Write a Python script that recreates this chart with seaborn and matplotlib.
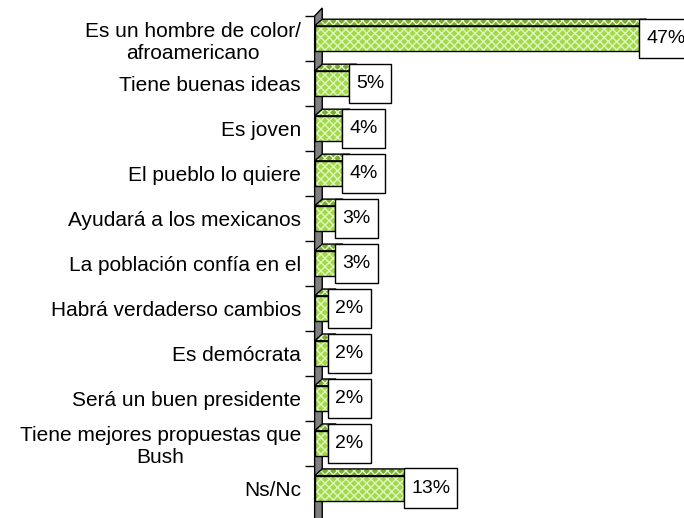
import numpy as np
import pandas as pd
import matplotlib
matplotlib.use("Agg")
import matplotlib.pyplot as plt
from matplotlib.patches import Polygon
from matplotlib.path import Path
import seaborn as sns

# Data
categories = [
    "Es un hombre de color/\nafroamericano",
    "Tiene buenas ideas",
    "Es joven",
    "El pueblo lo quiere",
    "Ayudará a los mexicanos",
    "La población confía en el",
    "Habrá verdaderso cambios",
    "Es demócrata",
    "Será un buen presidente",
    "Tiene mejores propuestas que\nBush",
    "Ns/Nc",
]
values = [47, 5, 4, 4, 3, 3, 2, 2, 2, 2, 13]
value_labels = ["47%", "5%", "4%", "4%", "3%", "3%", "2%", "2%", "2%", "2%", "13%"]

df = pd.DataFrame({"motivo": categories, "pct": values})

sns.set_style("white")
plt.rcParams["font.family"] = ["Liberation Sans", "DejaVu Sans"]
plt.rcParams["hatch.linewidth"] = 1.0
plt.rcParams["text.color"] = "black"
plt.rcParams["ytick.color"] = "black"

face_col = "#a4d848"
top_col = "#7fa838"
hatch_col = "#dcf8bc"

fig = plt.figure(figsize=(6.84, 5.18), dpi=100)
ax = fig.add_axes([0.460, 0.014, 0.540, 0.955])

bar_h = 0.56
sns.barplot(data=df, x="pct", y="motivo", orient="h", color=face_col,
            width=bar_h, saturation=1, ax=ax, zorder=3)

# hatch in light colour, outline drawn on top in black
for p in ax.patches:
    p.set_facecolor(face_col)
    p.set_edgecolor(hatch_col)
    p.set_hatch("xxxx")
    p.set_linewidth(0)
    p.set_zorder(3)

ax.set_xlim(0, 53.5)
ax.set_ylim(len(categories) - 0.5, -0.5)

# pseudo 3D depth
dx, dy = 1.1, 0.15
n = len(categories)

# grey wall behind the bars
wall = Polygon([(0, n + 0.3), (0, -0.5), (dx, -0.5 - dy * 1.2), (dx, n + 0.3)], closed=True,
               facecolor="#808080", edgecolor="black", lw=1.0, zorder=1, clip_on=False)
ax.add_patch(wall)

for i, v in enumerate(values):
    y0 = i - bar_h / 2
    y1 = i + bar_h / 2
    ax.add_patch(Polygon([(0, y0), (v, y0), (v, y1), (0, y1)], closed=True,
                         fill=False, edgecolor="black", lw=1.0, zorder=4))
    top_pts = [(0, y0), (v, y0), (v + dx, y0 - dy), (dx, y0 - dy)]
    ax.add_patch(Polygon(top_pts, closed=True, facecolor=top_col, edgecolor=hatch_col,
                         hatch="xxxx", lw=0, zorder=2))
    ax.add_patch(Polygon(top_pts, closed=True, fill=False, edgecolor="black", lw=1.0, zorder=2.5))


def label_box(x0, y0, width, height, mutation_size):
    px = 0.36 * mutation_size
    py = 0.58 * mutation_size
    xa, ya = x0 - px, y0 - py
    xb, yb = x0 + width + px, y0 + height + py
    return Path([(xa, ya), (xb, ya), (xb, yb), (xa, yb), (xa, ya)], closed=True)


for i, (v, lab) in enumerate(zip(values, value_labels)):
    ax.annotate(lab, xy=(v, i), xytext=(5, 0), textcoords="offset points",
                ha="left", va="center", fontsize=14, color="black", zorder=6,
                bbox=dict(boxstyle=label_box, facecolor="white", edgecolor="black", lw=1.0),
                annotation_clip=False)

for s in ["top", "right", "bottom", "left"]:
    ax.spines[s].set_visible(False)
ax.set_xticks([])
ax.set_xlabel("")
ax.set_ylabel("")
ax.set_yticks(range(n))
ax.set_yticklabels(categories, fontsize=15, ha="right", multialignment="center", color="black")
ax.tick_params(axis="y", which="major", left=False, length=0, pad=10)
ax.set_yticks(np.arange(-0.5, n - 1, 1), minor=True)
ax.tick_params(axis="y", which="minor", left=True, length=7, width=1, color="black",
               direction="out")

fig.savefig("out.png", dpi=100)
